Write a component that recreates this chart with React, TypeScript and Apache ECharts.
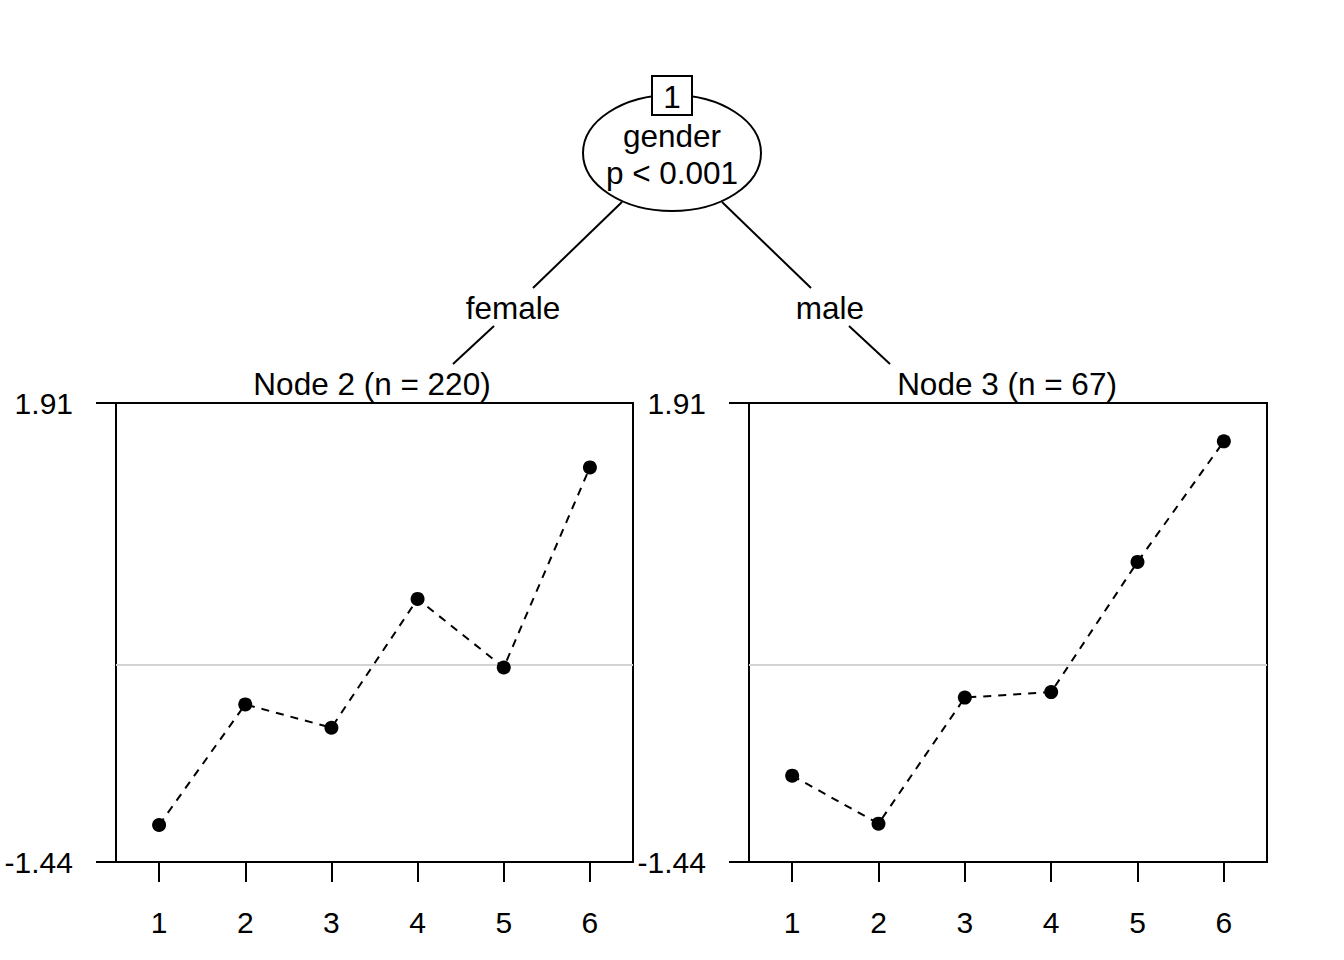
import React, { useEffect, useRef } from "react";
import * as echarts from "echarts";

const categories = ["1", "2", "3", "4", "5", "6"];
const node2Values = [-1.17, -0.29, -0.46, 0.48, -0.02, 1.44];
const node3Values = [-0.81, -1.16, -0.24, -0.2, 0.75, 1.63];
const yTicks = [-1.44, 1.91];
const yMin = -1.44;
const yMax = 1.91;
const refLine = 0;
const nodeTitles = ["Node 2 (n = 220)", "Node 3 (n = 67)"];
const splitVar = "gender";
const splitP = "p < 0.001";
const edgeLabels = ["female", "male"];

const FONT = "'Liberation Sans', Arial, Helvetica, sans-serif";
const AXIS_FS = 30;
const TEXT_FS = 31.5;

export default function App() {
  const ref = useRef<HTMLDivElement>(null);
  useEffect(() => {
    if (!ref.current) return;
    const chart = echarts.init(ref.current, undefined, { renderer: "svg" });
    const grids = [
      { left: 116, top: 403, width: 517, height: 459 },
      { left: 749, top: 403, width: 518, height: 459 },
    ];
    const xAxes = grids.map((_, i) => ({
      type: "category",
      gridIndex: i,
      data: categories,
      boundaryGap: true,
      axisLine: { show: true, onZero: false, lineStyle: { color: "#000", width: 2 } },
      axisTick: { show: true, alignWithLabel: true, length: 20, lineStyle: { color: "#000", width: 2 } },
      axisLabel: { color: "#000", fontSize: AXIS_FS, fontFamily: FONT, margin: 45 },
      splitLine: { show: false },
    }));
    const yAxes = grids.map((_, i) => ({
      type: "value",
      gridIndex: i,
      min: yMin,
      max: yMax,
      axisLine: { show: true, onZero: false, lineStyle: { color: "#000", width: 2 } },
      axisTick: { show: true, length: 20, customValues: yTicks, lineStyle: { color: "#000", width: 2 } },
      axisLabel: {
        color: "#000",
        fontSize: AXIS_FS,
        fontFamily: FONT,
        margin: 43,
        customValues: yTicks,
        formatter: (v: number) => v.toFixed(2),
      },
      splitLine: { show: false },
    }));
    const makeSeries = (data: number[], i: number) => ({
      type: "line",
      xAxisIndex: i,
      yAxisIndex: i,
      data,
      symbol: "circle",
      symbolSize: 14,
      itemStyle: { color: "#000" },
      lineStyle: { color: "#000", width: 2, type: [8, 7] },
      markLine: {
        silent: true,
        symbol: "none",
        label: { show: false },
        lineStyle: { color: "#d3d3d3", width: 2, type: "solid" },
        data: [{ yAxis: refLine }],
        z: 1,
      },
      z: 3,
    });
    const lineStyle = { stroke: "#000", lineWidth: 2 };
    const textStyle = (t: string, x: number, y: number) => ({
      type: "text",
      x,
      y,
      style: { text: t, fontSize: TEXT_FS, fontFamily: FONT, fill: "#000", align: "center", verticalAlign: "middle" },
      z: 10,
    });
    chart.setOption({
      animation: false,
      backgroundColor: "#fff",
      grid: grids.map((g) => ({ ...g, show: true, borderColor: "#000", borderWidth: 2, backgroundColor: "transparent" })),
      xAxis: xAxes,
      yAxis: yAxes,
      series: [makeSeries(node2Values, 0), makeSeries(node3Values, 1)],
      graphic: [
        { type: "line", shape: { x1: 622, y1: 202, x2: 533, y2: 288 }, style: lineStyle },
        { type: "line", shape: { x1: 494, y1: 326, x2: 453, y2: 364 }, style: lineStyle },
        { type: "line", shape: { x1: 722, y1: 202, x2: 811, y2: 288 }, style: lineStyle },
        { type: "line", shape: { x1: 849, y1: 326, x2: 890, y2: 364 }, style: lineStyle },
        { type: "ellipse", shape: { cx: 672, cy: 153, rx: 89, ry: 58 }, style: { fill: "#fff", stroke: "#000", lineWidth: 2 }, z: 5 },
        { type: "rect", shape: { x: 652, y: 76, width: 40, height: 39 }, style: { fill: "#fff", stroke: "#000", lineWidth: 2 }, z: 6 },
        textStyle("1", 672, 97),
        textStyle(splitVar, 672, 136),
        textStyle(splitP, 672, 173),
        textStyle(edgeLabels[0], 513, 308),
        textStyle(edgeLabels[1], 830, 308),
        textStyle(nodeTitles[0], 372, 384),
        textStyle(nodeTitles[1], 1007, 384),
      ],
    });
    return () => chart.dispose();
  }, []);
  return <div ref={ref} style={{ position: "fixed", left: 0, top: 0, width: 1344, height: 960 }} />;
}
